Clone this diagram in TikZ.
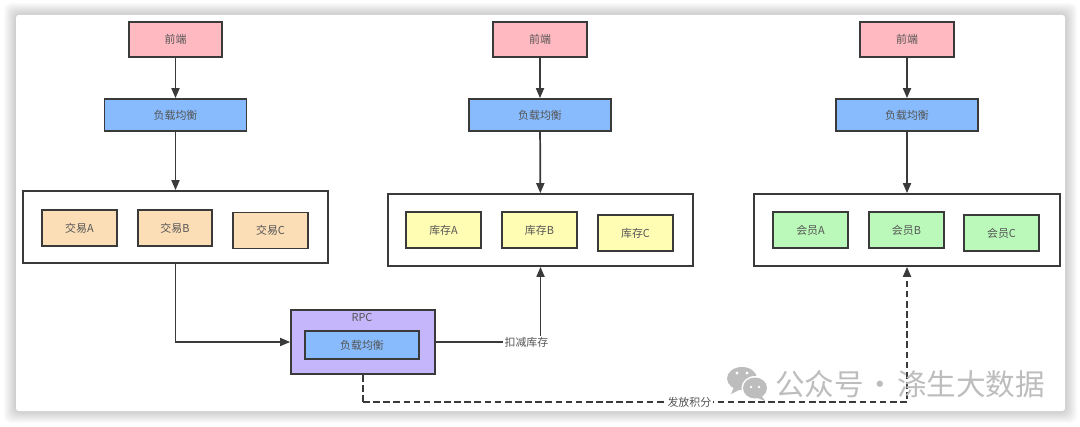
\documentclass[tikz,border=0pt]{standalone}
\usepackage{fontspec}
\setmainfont{Noto Sans CJK SC}
\newfontfamily\wmfont{Noto Sans CJK SC}
\usetikzlibrary{arrows.meta}
\definecolor{edgec}{HTML}{3A3A3A}
\definecolor{txt}{HTML}{555555}
\definecolor{pinkc}{HTML}{FFB9C1}
\definecolor{bluec}{HTML}{87BBFD}
\definecolor{orangec}{HTML}{FBDDB6}
\definecolor{yellowc}{HTML}{FFFDB4}
\definecolor{greenc}{HTML}{BAF9BA}
\definecolor{purplec}{HTML}{C5B6FB}
\definecolor{wmc}{HTML}{BDBDBD}
\tikzset{
  x=0.75pt,y=-0.75pt,
  box/.style={draw=edgec,line width=1.3pt,inner sep=0pt,text=txt,font=\fontsize{8.2}{10}\selectfont},
  frontbox/.style={box,fill=pinkc,minimum width=70pt,minimum height=26pt},
  lbbox/.style={box,fill=bluec,minimum width=106.5pt,minimum height=24pt},
  itemT/.style={box,fill=orangec,minimum width=56pt,minimum height=27pt},
  itemS/.style={box,fill=yellowc,minimum width=56pt,minimum height=27pt},
  itemM/.style={box,fill=greenc,minimum width=56pt,minimum height=27pt},
  groupbox/.style={box,fill=white,minimum width=229pt,minimum height=54pt},
  rpcbox/.style={box,fill=purplec,minimum width=108pt,minimum height=48pt},
  innerlb/.style={box,fill=bluec,minimum width=85.5pt,minimum height=21pt},
  conn/.style={draw=edgec,line width=1.3pt,-{Triangle[length=7.5pt,width=6pt]}},
  dconn/.style={conn,dash pattern=on 5pt off 2.6pt},
  plain/.style={draw=edgec,line width=1.3pt},
  pdash/.style={plain,dash pattern=on 5pt off 2.6pt},
  lab/.style={fill=white,inner sep=1pt,text=txt,font=\fontsize{8.2}{10}\selectfont},
  rpclab/.style={inner sep=0pt,text=txt,font=\fontsize{8.2}{10}\selectfont},
  wm/.style={inner sep=0pt,text=wmc,font=\wmfont\fontsize{22.2}{26}\selectfont},
}
\begin{document}
\begin{tikzpicture}
\useasboundingbox (0,0) rectangle (1080,427);
% page and soft card shadow
\fill[white] (0,0) rectangle (1080,427);
\foreach \s in {12,11,...,1}{
  \fill[black,opacity=.017,rounded corners=5pt] (16-\s,15-\s) rectangle (1065+\s,411+\s);
}
\fill[white,rounded corners=2pt] (16,15) rectangle (1065,411);

% column 1
\node[frontbox] (f1) at (175.5,39.5) {前端};
\node[lbbox] (l1) at (175.5,115) {负载均衡};
\node[groupbox] (g1) at (175.5,227) {};
\node[itemT] (a1) at (79.5,228) {交易A};
\node[itemT] (b1) at (175,228) {交易B};
\node[itemT] (c1) at (270.5,230.5) {交易C};
% column 2
\node[frontbox] (f2) at (540,39.5) {前端};
\node[lbbox] (l2) at (540,115) {负载均衡};
\node[groupbox] (g2) at (540.5,230) {};
\node[itemS] (a2) at (443.5,230) {库存A};
\node[itemS] (b2) at (539.5,230) {库存B};
\node[itemS] (c2) at (635.5,233) {库存C};
% column 3
\node[frontbox] (f3) at (907,39.5) {前端};
\node[lbbox] (l3) at (907,115) {负载均衡};
\node[groupbox] (g3) at (907,230) {};
\node[itemM] (a3) at (810.5,230) {会员A};
\node[itemM] (b3) at (906.5,230) {会员B};
\node[itemM] (c3) at (1001.5,233) {会员C};
% rpc
\node[rpcbox] (rpc) at (363,342) {};
\node[rpclab] (rpct) at (362,317) {RPC};
\node[innerlb] (rl) at (362,345) {负载均衡};

% connectors
\foreach \n in {1,2,3}{
  \draw[conn] (f\n) -- (l\n);
  \draw[conn] (l\n) -- (g\n);
}
\draw[conn] (g1.south) |- (rpc.west);
\draw[conn] (rpc.east) -| node[lab,pos=.433] (kj) {扣减库存} (g2.south);
\coordinate (dc) at (363,402);
\draw[pdash] (rpc.south) -- (dc);
\draw[dconn] (dc) -| node[lab,pos=.30,inner ysep=0pt] (ff) {发放积分} (g3.south);

% watermark
\fill[wmc] (742,378.5) ellipse[x radius=15,y radius=11.5];
\fill[wmc] (734,387) -- (731,394) -- (741,389) -- cycle;
\fill[white] (755,388) ellipse[x radius=13.5,y radius=12];
\fill[wmc] (755,388) ellipse[x radius=12,y radius=10.5];
\fill[wmc] (761,395) -- (765,401) -- (755,397) -- cycle;
\fill[white] (737,373) circle[radius=1.6] (747,373) circle[radius=1.6]
             (751,387) circle[radius=1.3] (759,387) circle[radius=1.3];
\node[wm,anchor=west] (wmt) at (775,384) {公众号\makebox[24.75pt]{·}涤生大数据};
\end{tikzpicture}
\end{document}
